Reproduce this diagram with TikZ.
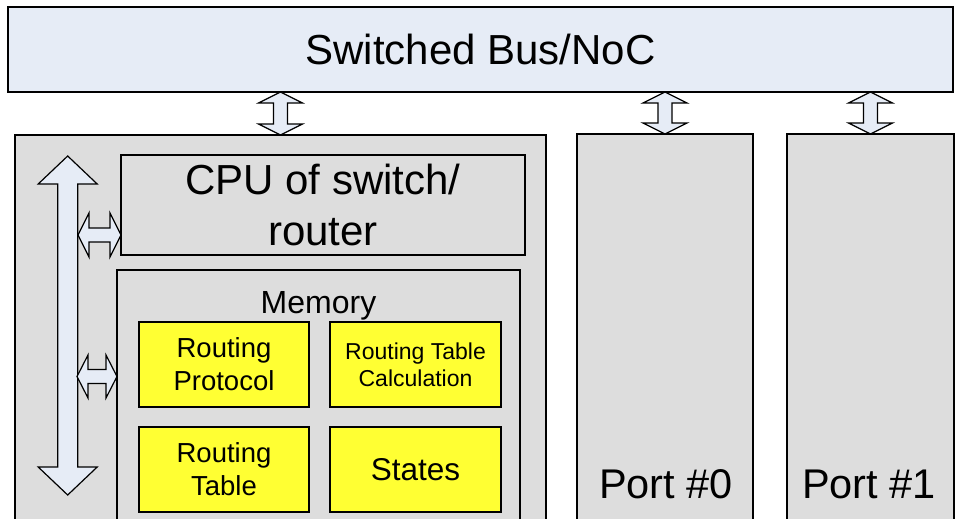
\documentclass[tikz,border=0pt]{standalone}
\usepackage{fontspec}
\setmainfont{Liberation Sans}
\usetikzlibrary{calc}

\definecolor{boxgray}{RGB}{221,221,221}
\definecolor{busblue}{RGB}{230,236,246}
\definecolor{memyellow}{RGB}{255,255,51}

\tikzset{
  base/.style={draw=black, line width=1.8pt, outer sep=0pt, inner sep=0pt, anchor=north west},
  graybox/.style={base, fill=boxgray},
  busbox/.style={base, fill=busblue},
  membox/.style={base, fill=memyellow, line width=2pt, align=center},
  barrow/.style={draw=black, fill=busblue, line width=1.2pt, line join=miter},
  txt/.style={inner sep=0pt, outer sep=0pt, text=black},
}

% vertical double block arrow: top point, bottom point, half shaft, half head, head length
\newcommand\vblock[5]{%
  \draw[barrow] let \p1=(#1), \p2=(#2) in
    (\x1,\y1) -- ({\x1+#4},{\y1-#5}) -- ({\x1+#3},{\y1-#5}) -- ({\x1+#3},{\y2+#5})
    -- ({\x1+#4},{\y2+#5}) -- (\x1,\y2) -- ({\x1-#4},{\y2+#5}) -- ({\x1-#3},{\y2+#5})
    -- ({\x1-#3},{\y1-#5}) -- ({\x1-#4},{\y1-#5}) -- cycle;}
% horizontal double block arrow: left point, right point, half shaft, half head, head length
\newcommand\hblock[5]{%
  \draw[barrow] let \p1=(#1), \p2=(#2) in
    (\x1,\y1) -- ({\x1+#5},{\y1+#4}) -- ({\x1+#5},{\y1+#3}) -- ({\x2-#5},{\y1+#3})
    -- ({\x2-#5},{\y1+#4}) -- (\x2,\y1) -- ({\x2-#5},{\y1-#4}) -- ({\x2-#5},{\y1-#3})
    -- ({\x1+#5},{\y1-#3}) -- ({\x1+#5},{\y1-#4}) -- cycle;}

\begin{document}
\begin{tikzpicture}[x=1pt,y=-1pt]
\useasboundingbox (0,0) rectangle (958,519);
\fill[white] (0,0) rectangle (958,519);

% bus
\node[busbox, minimum width=945pt, minimum height=85pt, font=\fontsize{42}{50}\selectfont]
  (bus) at (8,7) {Switched Bus/NoC};

% switch body and ports
\node[graybox, minimum width=531pt, minimum height=400pt] (sw) at (15,135) {};
\node[graybox, minimum width=176pt, minimum height=400pt] (p0) at (577,134) {};
\node[graybox, minimum width=167pt, minimum height=400pt] (p1) at (787,134) {};
\node[txt, anchor=base, font=\fontsize{41.5}{49}\selectfont] (p0t) at (666,498) {Port \#0};
\node[txt, anchor=base, font=\fontsize{41.5}{49}\selectfont] (p1t) at (869,498) {Port \#1};

% bus links
\vblock{sw.north |- bus.south}{sw.north}{7pt}{22pt}{11pt}
\vblock{p0.north |- bus.south}{p0.north}{7pt}{22pt}{11pt}
\vblock{p1.north |- bus.south}{p1.north}{7pt}{22pt}{11pt}

% CPU
\node[graybox, minimum width=404pt, minimum height=100pt, align=center,
  font=\fontsize{42}{51}\selectfont] (cpu) at (121,155) {CPU of switch/\\router};

% memory
\node[graybox, minimum width=403pt, minimum height=300pt] (mem) at (117,270) {};
\node[txt, anchor=base, font=\fontsize{32}{38}\selectfont] (memt) at (318.5,313) {Memory};

\node[membox, minimum width=170pt, minimum height=85pt, font=\fontsize{27.5}{33}\selectfont]
  (rp) at (139,322) {Routing\\Protocol};
\node[membox, minimum width=171pt, minimum height=85pt, font=\fontsize{23}{27}\selectfont]
  (rtc) at (330,322) {Routing Table\\Calculation};
\node[membox, minimum width=170pt, minimum height=85pt, font=\fontsize{27.5}{33}\selectfont]
  (rt) at (139,427) {Routing\\Table};
\node[membox, minimum width=171pt, minimum height=85pt, font=\fontsize{31.5}{38}\selectfont]
  (st) at (330,427) {States};

% internal bus
\coordinate (vtop) at (67.7,156);
\coordinate (vbot) at (67.7,495);
\vblock{vtop}{vbot}{10pt}{29.5pt}{28pt}

\coordinate (h1) at (78,235);
\coordinate (h2) at (77,376.5);
\hblock{h1}{h1 -| cpu.west}{7pt}{22pt}{11pt}
\hblock{h2}{h2 -| mem.west}{7pt}{21.5pt}{11pt}
\end{tikzpicture}
\end{document}
